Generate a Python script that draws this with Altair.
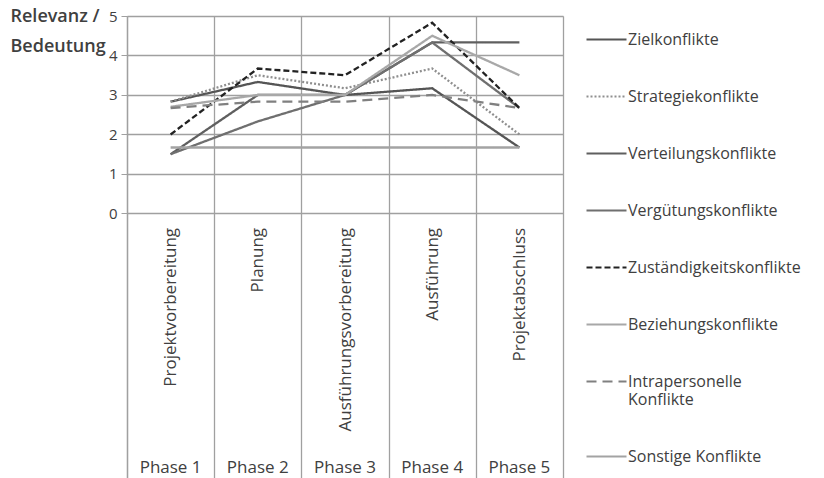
import altair as alt
import pandas as pd

phases = ["Projektvorbereitung", "Planung", "Ausführungsvorbereitung", "Ausführung", "Projektabschluss"]
phase_labels = ["Phase 1", "Phase 2", "Phase 3", "Phase 4", "Phase 5"]

series = ["Zielkonflikte", "Strategiekonflikte", "Verteilungskonflikte", "Vergütungskonflikte",
          "Zuständigkeitskonflikte", "Beziehungskonflikte", "Intrapersonelle Konflikte", "Sonstige Konflikte"]

ziel = [2.83, 3.33, 3.0, 3.17, 1.67]
strategie = [2.83, 3.5, 3.17, 3.67, 2.0]
verteilung = [1.5, 3.0, 3.0, 4.33, 4.33]
verguetung = [1.5, 2.33, 3.0, 4.33, 2.67]
zustaendigkeit = [2.0, 3.67, 3.5, 4.83, 2.67]
beziehung = [2.7, 3.0, 3.0, 4.5, 3.5]
intrapersonell = [2.67, 2.83, 2.83, 3.0, 2.67]
sonstige = [1.67, 1.67, 1.67, 1.67, 1.67]

colors = ["#555555", "#8f8f8f", "#5f5f5f", "#6f6f6f", "#222222", "#a8a8a8", "#808080", "#a3a3a3"]
dashes = [[1, 0], [2, 2], [1, 0], [1, 0], [6, 3], [1, 0], [10, 6], [1, 0]]

all_values = [ziel, strategie, verteilung, verguetung, zustaendigkeit, beziehung, intrapersonell, sonstige]
rows = []
for s, vals in zip(series, all_values):
    for p, v in zip(phases, vals):
        rows.append({"series": s, "phase": p, "value": v})
df = pd.DataFrame(rows)
ph_df = pd.DataFrame({"phase": phases, "label": phase_labels})

FONT = "Open Sans"
TXT = "#404040"
GRID = "#a0a0a0"

x_enc = alt.X(
    "phase:N", sort=phases,
    scale=alt.Scale(type="band", paddingInner=0, paddingOuter=0),
    axis=alt.Axis(title=None, labelAngle=-90, offset=-264.6, domain=False, ticks=False,
                  labelPadding=14, grid=True, tickBand="extent", gridColor=GRID, gridWidth=1.3,
                  labelFontSize=17, labelColor=TXT, labelFont=FONT, labelLimit=400),
)
y_scale = alt.Scale(domain=[-6.7, 5], nice=False, zero=False)

lines = alt.Chart(df).mark_line(strokeWidth=2.3).encode(
    x=x_enc,
    y=alt.Y("value:Q", scale=y_scale,
            axis=alt.Axis(values=[0, 1, 2, 3, 4, 5], title=["Relevanz /", "Bedeutung"],
                          titleAngle=0, titleAlign="left", titleBaseline="top", titleX=-117, titleY=-9,
                          titleFontSize=18, titleFontWeight=600, titleColor=TXT, titleFont=FONT,
                          titleLineHeight=30,
                          labelFontSize=15, labelColor=TXT, labelFont=FONT, labelPadding=4,
                          tickSize=6, tickColor=GRID, domainColor=GRID, domainWidth=1.3,
                          gridColor=GRID, gridWidth=1.3)),
    color=alt.Color("series:N", scale=alt.Scale(domain=series, range=colors),
                    legend=alt.Legend(title=None, orient="none", legendX=458, legendY=2,
                                      symbolType="stroke", symbolSize=1600, symbolStrokeWidth=2.2,
                                      labelFontSize=16, labelColor=TXT, labelFont=FONT, labelLimit=300,
                                      labelOffset=0, rowPadding=27, labelBaseline="middle",
                                      labelExpr="datum.label == 'Intrapersonelle Konflikte' ? ['Intrapersonelle', 'Konflikte'] : datum.label")),
    strokeDash=alt.StrokeDash("series:N", scale=alt.Scale(domain=series, range=dashes), legend=None),
)

phase_text = alt.Chart(ph_df).mark_text(fontSize=17, font=FONT, color=TXT, baseline="alphabetic").encode(
    x=alt.X("phase:N", sort=phases),
    y=alt.datum(-6.58),
    text="label:N",
)

chart = alt.layer(lines, phase_text).properties(
    width=436, height=462,
    autosize=alt.AutoSizeParams(type="none"),
    padding={"left": 119, "top": 8, "right": 253, "bottom": 0},
).configure_view(stroke=None).configure(background="white")

chart.save("out.html", embed_options={"renderer": "svg", "actions": False})
